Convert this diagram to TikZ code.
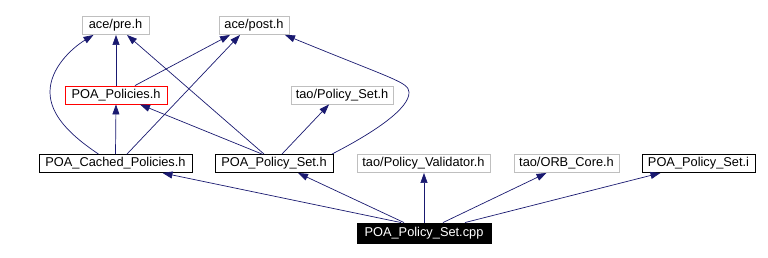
\documentclass[tikz,border=0pt]{standalone}
\usepackage{fontspec}
\setmainfont{Liberation Sans}
\usetikzlibrary{arrows.meta}
\definecolor{edgeblue}{HTML}{191970}
\definecolor{extgray}{HTML}{BFBFBF}
\begin{document}
\begin{tikzpicture}[x=1pt,y=-1pt,
  file/.style={draw=black,line width=0.9pt,fill=white,inner sep=0pt,
    minimum height=18pt,font=\fontsize{12.8}{14}\selectfont},
  ext/.style={file,draw=extgray},
  cur/.style={file,draw=red},
  main/.style={file,fill=black,text=white,minimum height=20pt},
  dep/.style={draw=edgeblue,line width=0.7pt,
    -{Triangle[length=10pt,width=7pt]}}]
\useasboundingbox (0,0) rectangle (768,257);
% header files
\node[ext,minimum width=67pt]  (pre)    at (115.5,25.5) {ace/pre.h};
\node[ext,minimum width=70pt]  (post)   at (254,25.5)   {ace/post.h};
\node[cur,minimum width=102pt] (pols)   at (116,95)     {POA\_Policies.h};
\node[ext,minimum width=102pt] (taoset) at (342,95)     {tao/Policy\_Set.h};
\node[file,minimum width=153pt] (cached) at (115.5,163.5) {POA\_Cached\_Policies.h};
\node[file,minimum width=118pt] (pset)   at (274,163.5)   {POA\_Policy\_Set.h};
\node[ext,minimum width=133pt]  (valid)  at (423.5,163.5) {tao/Policy\_Validator.h};
\node[ext,minimum width=105pt]  (orb)    at (566.5,163.5) {tao/ORB\_Core.h};
\node[file,minimum width=113pt] (seti)   at (698.5,163.5) {POA\_Policy\_Set.i};
% source file
\node[main,minimum width=134pt] (cpp)    at (424,233)     {POA\_Policy\_Set.cpp};
% includes of the source file
\draw[dep] ([xshift=-23pt]cpp.north) -- ([xshift=47pt]cached.south);
\draw[dep] ([xshift=-20pt]cpp.north) -- ([xshift=24pt]pset.south);
\draw[dep] (cpp.north) -- ([xshift=0.5pt]valid.south);
\draw[dep] ([xshift=19pt]cpp.north) -- ([xshift=-20pt]orb.south);
\draw[dep] ([xshift=41pt]cpp.north) -- ([xshift=-38pt]seti.south);
% includes of POA_Cached_Policies.h
\draw[dep] ([xshift=-17pt]cached.north) .. controls (70,135) and (50,115) .. (50,92)
  .. controls (50,68) and (72,48) .. ([xshift=-22pt]pre.south);
\draw[dep] (cached.north) -- (pols.south);
\draw[dep] ([xshift=11.5pt]cached.north) -- ([xshift=-14pt]post.south);
% includes of POA_Policies.h
\draw[dep] (pols.north) -- ([xshift=0.5pt]pre.south);
\draw[dep] ([xshift=19pt]pols.north) -- ([xshift=-24pt]post.south);
% includes of POA_Policy_Set.h
\draw[dep] ([xshift=-10pt]pset.north) -- ([xshift=11.5pt]pre.south);
\draw[dep] ([xshift=-12pt]pset.north) -- ([xshift=24pt]pols.south);
\draw[dep] ([xshift=8pt]pset.north) -- ([xshift=-13pt]taoset.south);
\draw[dep] ([xshift=58pt]pset.north) .. controls (375,132) and (410,108) .. (409,92)
  .. controls (408,82) and (395,80) .. ([xshift=31pt]post.south);
\end{tikzpicture}
\end{document}
